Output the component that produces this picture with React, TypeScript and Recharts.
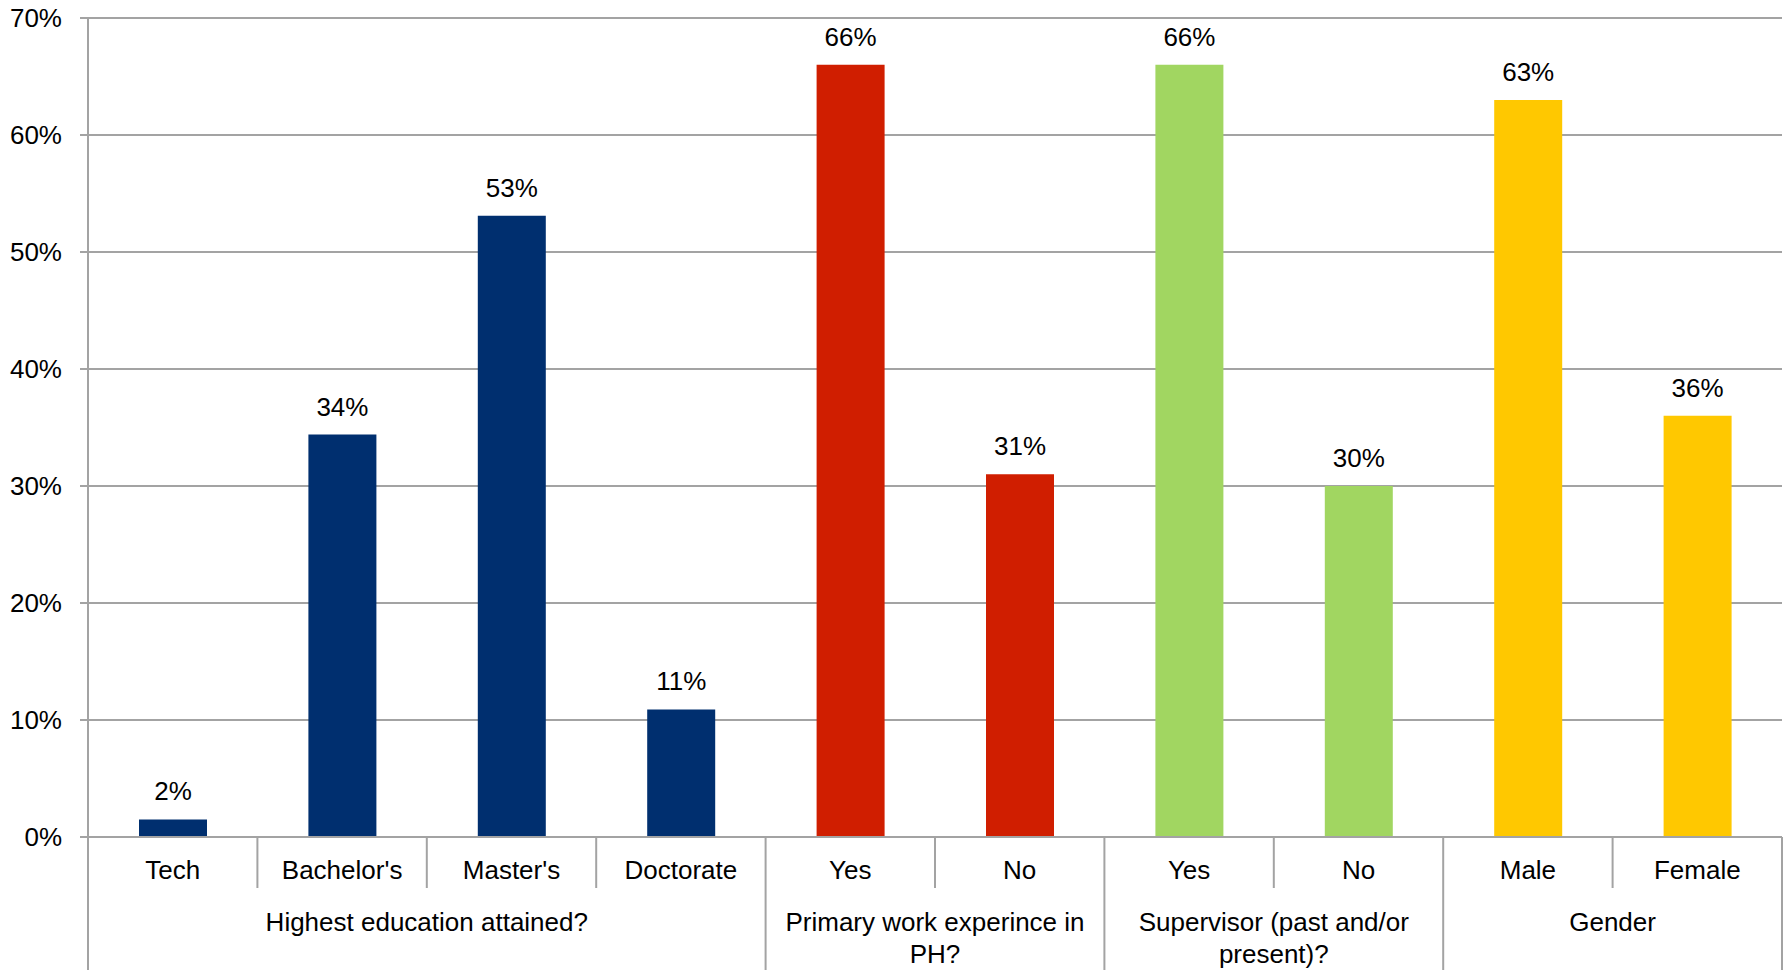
import { BarChart, Bar, XAxis, YAxis, CartesianGrid, Cell, LabelList } from 'recharts';

// chart values
const categories = ['Tech', "Bachelor's", "Master's", 'Doctorate', 'Yes', 'No', 'Yes', 'No', 'Male', 'Female'];
const shares = [1.5, 34.4, 53.1, 10.9, 66, 31, 66, 30, 63, 36];
const groupOf = [0, 0, 0, 0, 1, 1, 2, 2, 3, 3];
const groupLabels = [
  ['Highest education attained?'],
  ['Primary work experince in', 'PH?'],
  ['Supervisor (past and/or', 'present)?'],
  ['Gender'],
];
const groupColors = ['#002f6f', '#d01e00', '#a1d661', '#ffc800'];
const yTicks = [0, 10, 20, 30, 40, 50, 60, 70];

const W = 1788;
const H = 970;
const X_HEIGHT = 133;
const MARGIN = { top: 18, right: 6, bottom: 0, left: 0 };
const Y_WIDTH = 88;
const FONT = '"Liberation Sans", Arial, Helvetica, sans-serif';
const FS = 26;
const GRAY = '#a3a3a3';

const chartData = categories.map((name, i) => ({ name, value: shares[i], group: groupOf[i] }));

const plotW = W - MARGIN.left - MARGIN.right - Y_WIDTH;
const band = plotW / categories.length;
const axisY = H - MARGIN.bottom - X_HEIGHT;

function CategoryTick(props: any) {
  const { x, index, payload } = props;
  const g = groupOf[index];
  const isGroupEnd = index === categories.length - 1 || groupOf[index + 1] !== g;
  const isGroupStart = index === 0 || groupOf[index - 1] !== g;
  const size = groupOf.filter((v) => v === g).length;
  const left = x - band / 2;
  const right = x + band / 2;
  const groupCenter = left + (size * band) / 2;
  return (
    <g>
      <text x={x} y={axisY + 42} textAnchor="middle" fontSize={FS} fontFamily={FONT} fill="#000">
        {payload.value}
      </text>
      {index === 0 && <line x1={left} y1={axisY} x2={left} y2={H} stroke={GRAY} strokeWidth={2} />}
      <line x1={right} y1={axisY} x2={right} y2={isGroupEnd ? H : axisY + 51} stroke={GRAY} strokeWidth={2} />
      {isGroupStart &&
        groupLabels[g].map((line, k) => (
          <text
            key={k}
            x={groupCenter}
            y={axisY + 94 + k * 32}
            textAnchor="middle"
            fontSize={FS}
            fontFamily={FONT}
            fill="#000"
          >
            {line}
          </text>
        ))}
    </g>
  );
}

export default function App() {
  return (
    <div style={{ position: 'absolute', left: 0, top: 0, width: W, height: H, background: '#fff' }}>
      <BarChart width={W} height={H} data={chartData} margin={MARGIN}>
        <CartesianGrid vertical={false} stroke={GRAY} strokeWidth={2} />
        <XAxis
          dataKey="name"
          axisLine={{ stroke: GRAY, strokeWidth: 2 }}
          tickLine={false}
          tick={<CategoryTick />}
          interval={0}
          height={X_HEIGHT}
        />
        <YAxis
          width={Y_WIDTH}
          domain={[0, 70]}
          ticks={yTicks}
          tickFormatter={(v: number) => `${v}%`}
          axisLine={{ stroke: GRAY, strokeWidth: 2 }}
          tickLine={{ stroke: GRAY, strokeWidth: 2 }}
          tickSize={8}
          tickMargin={18}
          tick={{ fill: '#000', fontSize: FS, fontFamily: FONT }}
        />
        <Bar dataKey="value" isAnimationActive={false} barSize={68}>
          {chartData.map((d, i) => (
            <Cell key={i} fill={groupColors[d.group]} />
          ))}
          <LabelList
            dataKey="value"
            position="top"
            offset={19}
            formatter={(v: number) => `${Math.round(v)}%`}
            style={{ fill: '#000', fontSize: FS, fontFamily: FONT }}
          />
        </Bar>
      </BarChart>
    </div>
  );
}
